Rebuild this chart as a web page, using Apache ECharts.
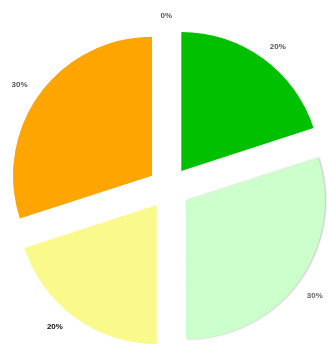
<!DOCTYPE html>
<html>
<head>
<meta charset="utf-8">
<script src="https://cdn.jsdelivr.net/npm/echarts@6/dist/echarts.min.js"></script>
<style>
html,body{margin:0;padding:0;background:#fff;}
#chart{width:328px;height:347px;}
</style>
</head>
<body>
<div id="chart"></div>
<script>
// Slice names, values and fill colours, clockwise from 12 o'clock
const categories = ['A', 'B', 'C', 'D', 'E'];
const values = [0, 20, 30, 20, 30];
const colors = ['#999999', '#00c000', '#ccffcc', '#fafa8c', '#ffa500'];

// Per-slice label distance (radial, horizontal) and label colours
const labelGap = [[12, -8], [15, -7], [24, -16], [12, 0], [16, -6]];
const labelColors = ['#555', '#555', '#666', '#111', '#555'];

const chart = echarts.init(document.getElementById('chart'), null, {renderer: 'canvas'});

const data = categories.map((name, i) => {
  const item = {
    name: name,
    value: values[i],
    selected: true,
    itemStyle: {color: colors[i]},
    label: {color: labelColors[i]},
    labelLine: {show: false, length: labelGap[i][0], length2: labelGap[i][1]}
  };
  if (i === 2) {
    item.itemStyle.shadowColor = 'rgba(0,0,0,0.25)';
    item.itemStyle.shadowBlur = 2;
    item.itemStyle.shadowOffsetX = 1;
  }
  return item;
});

chart.setOption({
  animation: false,
  series: [{
    type: 'pie',
    center: [169, 188],
    radius: 139,
    startAngle: 90,
    clockwise: true,
    selectedMode: 'multiple',
    selectedOffset: 21,
    avoidLabelOverlap: false,
    data: data,
    label: {
      show: true,
      position: 'outside',
      formatter: '{d}%',
      fontFamily: 'Arial, Liberation Sans, sans-serif',
      fontSize: 8,
      fontWeight: 'bold'
    },
    labelLine: {show: false},
    emphasis: {disabled: true}
  }]
});
</script>
</body>
</html>
